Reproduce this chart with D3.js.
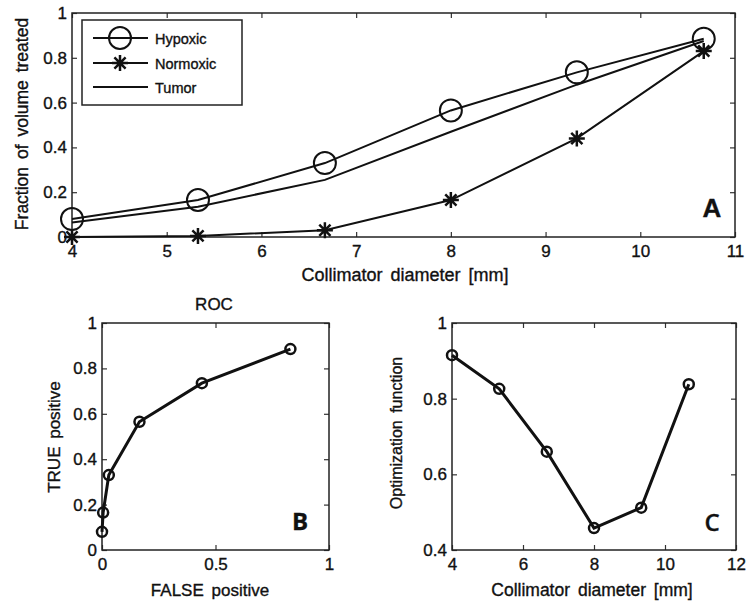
<!DOCTYPE html>
<html>
<head>
<meta charset="utf-8">
<script src="https://cdn.jsdelivr.net/npm/d3@7"></script>
<style>
  body { margin: 0; background: #fff; }
  svg { display: block; }
  text { font-family: "Liberation Sans", Arial, sans-serif; fill: #111; stroke: #111; stroke-width: 0.35; }
  .tick line { stroke: #333; stroke-width: 1.2; }
  .tick text { font-size: 17px; }
</style>
</head>
<body>
<script>
// values
var diameters = [4, 5.33, 6.67, 8, 9.33, 10.67];
var hypoxic   = [0.08, 0.165, 0.33, 0.565, 0.735, 0.885];
var normoxic  = [0.0, 0.005, 0.03, 0.165, 0.44, 0.83];
var tumor     = [0.065, 0.135, 0.255, 0.47, 0.68, 0.875];
var optimFn   = [0.915, 0.826, 0.66, 0.458, 0.512, 0.838];

var legendNames = ['Hypoxic', 'Normoxic', 'Tumor'];

var ticksA_x = [4, 5, 6, 7, 8, 9, 10, 11];
var ticksA_y = [0, 0.2, 0.4, 0.6, 0.8, 1];
var ticksB_x = [0, 0.5, 1];
var ticksB_y = [0, 0.2, 0.4, 0.6, 0.8, 1];
var ticksC_x = [4, 6, 8, 10, 12];
var ticksC_y = [0.4, 0.6, 0.8, 1];

var svg = d3.select('body').append('svg')
  .attr('width', 750)
  .attr('height', 607);

var ink = '#111';

// draws a framed MATLAB-ish axes box with inward ticks on all four sides
var makeFrame = function(box, x, y, xt, yt, fmtX, fmtY) {
  var g = svg.append('g');
  g.append('g')
    .attr('transform', 'translate(0,' + box.bottom + ')')
    .call(d3.axisBottom(x).tickValues(xt).tickSize(-5).tickSizeOuter(0).tickPadding(8).tickFormat(fmtX))
    .call(function(a) { a.select('.domain').remove(); });
  g.append('g')
    .attr('transform', 'translate(0,' + box.top + ')')
    .call(d3.axisTop(x).tickValues(xt).tickSize(-5).tickSizeOuter(0).tickFormat(''))
    .call(function(a) { a.select('.domain').remove(); });
  g.append('g')
    .attr('transform', 'translate(' + box.left + ',0)')
    .call(d3.axisLeft(y).tickValues(yt).tickSize(-5).tickSizeOuter(0).tickPadding(5).tickFormat(fmtY))
    .call(function(a) { a.select('.domain').remove(); });
  g.append('g')
    .attr('transform', 'translate(' + box.right + ',0)')
    .call(d3.axisRight(y).tickValues(yt).tickSize(-5).tickSizeOuter(0).tickFormat(''))
    .call(function(a) { a.select('.domain').remove(); });
  g.selectAll('.tick text').attr('fill', ink);
  g.append('rect')
    .attr('x', box.left).attr('y', box.top)
    .attr('width', box.right - box.left).attr('height', box.bottom - box.top)
    .attr('fill', 'none').attr('stroke', '#222').attr('stroke-width', 1.5);
  return g;
};

var fmtNum = function(d) { return d3.format('')(d); };

var starPath = function(cx, cy, s) {
  var d = s * 0.7;
  return 'M' + (cx - s) + ',' + cy + 'L' + (cx + s) + ',' + cy +
    'M' + cx + ',' + (cy - s) + 'L' + cx + ',' + (cy + s) +
    'M' + (cx - d) + ',' + (cy - d) + 'L' + (cx + d) + ',' + (cy + d) +
    'M' + (cx - d) + ',' + (cy + d) + 'L' + (cx + d) + ',' + (cy - d);
};

var label = function(x, y, size, txt, rot) {
  return svg.append('text')
    .attr('transform', 'translate(' + x + ',' + y + ')' + (rot ? ' rotate(-90)' : ''))
    .attr('text-anchor', 'middle')
    .attr('font-size', size)
    .style('word-spacing', '3px')
    .text(txt);
};

// ---------- panel A ----------
var boxA = { left: 72, right: 735, top: 13, bottom: 237 };
var xA = d3.scaleLinear().domain([4, 11]).range([boxA.left, boxA.right]);
var yA = d3.scaleLinear().domain([0, 1]).range([boxA.bottom, boxA.top]);
makeFrame(boxA, xA, yA, ticksA_x, ticksA_y, fmtNum, fmtNum);

var lineA = function(vals) {
  return d3.line()
    .x(function(d, i) { return xA(diameters[i]); })
    .y(function(d) { return yA(d); })(vals);
};

svg.append('path').attr('d', lineA(tumor))
  .attr('fill', 'none').attr('stroke', ink).attr('stroke-width', 2);
svg.append('path').attr('d', lineA(hypoxic))
  .attr('fill', 'none').attr('stroke', ink).attr('stroke-width', 2);
svg.append('path').attr('d', lineA(normoxic))
  .attr('fill', 'none').attr('stroke', ink).attr('stroke-width', 2);

svg.selectAll('circle.hyp').data(hypoxic).enter().append('circle')
  .attr('class', 'hyp')
  .attr('cx', function(d, i) { return xA(diameters[i]); })
  .attr('cy', function(d) { return yA(d); })
  .attr('r', 11)
  .attr('fill', 'none').attr('stroke', ink).attr('stroke-width', 2);

svg.selectAll('path.star').data(normoxic).enter().append('path')
  .attr('class', 'star')
  .attr('d', function(d, i) { return starPath(xA(diameters[i]), yA(d), 8); })
  .attr('stroke', ink).attr('stroke-width', 2.5);

// legend
var leg = svg.append('g');
leg.append('rect')
  .attr('x', 82).attr('y', 20).attr('width', 160).attr('height', 85)
  .attr('fill', '#fff').attr('stroke', '#222').attr('stroke-width', 1.5);
var legY = [38, 63, 87];
legendNames.forEach(function(name, i) {
  leg.append('line')
    .attr('x1', 93).attr('x2', 148).attr('y1', legY[i]).attr('y2', legY[i])
    .attr('stroke', ink).attr('stroke-width', 2);
  leg.append('text')
    .attr('x', 155).attr('y', legY[i] + 5.5)
    .attr('font-size', 14.5)
    .text(name);
});
leg.append('circle').attr('cx', 120).attr('cy', legY[0]).attr('r', 11)
  .attr('fill', 'none').attr('stroke', ink).attr('stroke-width', 2);
leg.append('path').attr('d', starPath(120, legY[1], 8))
  .attr('stroke', ink).attr('stroke-width', 2.5);

label(405, 281, 18, 'Collimator diameter [mm]');
label(28, 124, 17.5, 'Fraction of volume treated', true);
svg.append('text')
  .attr('x', 712).attr('y', 217)
  .attr('text-anchor', 'middle').attr('font-size', 26).attr('font-weight', 'bold')
  .text('A');

// ---------- panel B (ROC) ----------
var boxB = { left: 102, right: 329, top: 323, bottom: 550 };
var xB = d3.scaleLinear().domain([0, 1]).range([boxB.left, boxB.right]);
var yB = d3.scaleLinear().domain([0, 1]).range([boxB.bottom, boxB.top]);
makeFrame(boxB, xB, yB, ticksB_x, ticksB_y, fmtNum, fmtNum);

var roc = normoxic.map(function(fp, i) { return [fp, hypoxic[i]]; });
svg.append('path')
  .attr('d', d3.line().x(function(d) { return xB(d[0]); }).y(function(d) { return yB(d[1]); })(roc))
  .attr('fill', 'none').attr('stroke', ink).attr('stroke-width', 3);
svg.selectAll('circle.roc').data(roc).enter().append('circle')
  .attr('class', 'roc')
  .attr('cx', function(d) { return xB(d[0]); })
  .attr('cy', function(d) { return yB(d[1]); })
  .attr('r', 5)
  .attr('fill', 'none').attr('stroke', ink).attr('stroke-width', 2.5);

label(214, 310, 17, 'ROC');
label(210, 596, 17, 'FALSE positive');
label(60, 437, 17, 'TRUE positive', true);
svg.append('text')
  .attr('x', 300).attr('y', 530)
  .attr('text-anchor', 'middle').attr('font-size', 24).attr('font-weight', 'bold')
  .style('font-family', '"Open Sans", sans-serif')
  .text('B');

// ---------- panel C ----------
var boxC = { left: 452, right: 736, top: 323, bottom: 550 };
var xC = d3.scaleLinear().domain([4, 12]).range([boxC.left, boxC.right]);
var yC = d3.scaleLinear().domain([0.4, 1]).range([boxC.bottom, boxC.top]);
makeFrame(boxC, xC, yC, ticksC_x, ticksC_y, fmtNum, fmtNum);

svg.append('path')
  .attr('d', d3.line()
    .x(function(d, i) { return xC(diameters[i]); })
    .y(function(d) { return yC(d); })(optimFn))
  .attr('fill', 'none').attr('stroke', ink).attr('stroke-width', 3);
svg.selectAll('circle.opt').data(optimFn).enter().append('circle')
  .attr('class', 'opt')
  .attr('cx', function(d, i) { return xC(diameters[i]); })
  .attr('cy', function(d) { return yC(d); })
  .attr('r', 5)
  .attr('fill', 'none').attr('stroke', ink).attr('stroke-width', 2.5);

label(592, 596, 17.5, 'Collimator diameter [mm]');
label(402, 433, 16, 'Optimization function', true);
svg.append('text')
  .attr('x', 712).attr('y', 531)
  .attr('text-anchor', 'middle').attr('font-size', 24).attr('font-weight', 600)
  .style('font-family', '"Open Sans", sans-serif')
  .text('C');
</script>
</body>
</html>
